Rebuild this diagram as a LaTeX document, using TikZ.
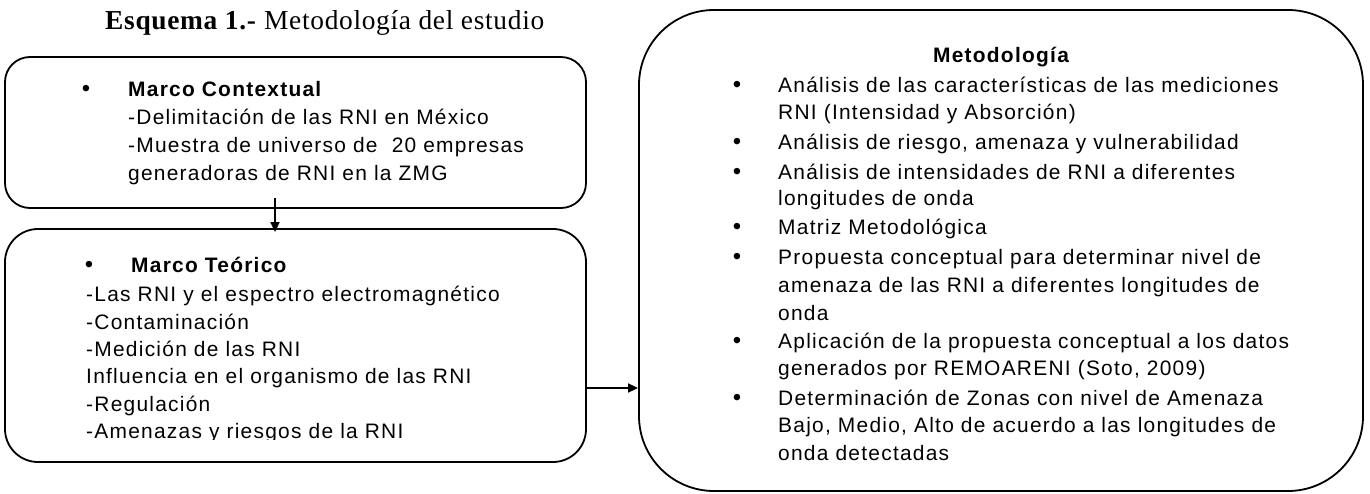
\documentclass[tikz,border=0pt]{standalone}
\usepackage{fontspec}
\setmainfont{Liberation Serif}[LetterSpace=2.5]
\setsansfont{Liberation Sans}[LetterSpace=6]
\usetikzlibrary{arrows.meta}
\tikzset{
  box/.style={draw=black, line width=1.8bp, rectangle, inner sep=0pt},
  txt/.style={anchor=base west, inner sep=0pt, font=\sffamily\fontsize{21}{25}\selectfont},
  btxt/.style={txt, font=\sffamily\bfseries\fontsize{21}{25}\selectfont},
  bul/.style={anchor=base, inner sep=0pt, font=\sffamily\fontsize{24}{25}\selectfont},
  conn/.style={draw=black, line width=1.6bp, -{Triangle[length=10bp,width=9bp]}}
}
\begin{document}
\begin{tikzpicture}[x=1bp,y=-1bp]
\useasboundingbox (0,0) rectangle (1370,494);
% title
\node[anchor=base west, inner sep=0pt, font=\fontsize{27.5}{31}\selectfont] (title) at (105,30) {\textbf{Esquema 1.-} Metodología del estudio};
% boxes
\node[box, rounded corners=25bp, minimum width=581bp, minimum height=151bp] (ctx) at (295.5,132.5) {};
\node[box, rounded corners=33bp, minimum width=581bp, minimum height=233bp] (teo) at (295.5,345.5) {};
\node[box, rounded corners=75bp, minimum width=724bp, minimum height=481bp] (met) at (1001,250.5) {};
% box 1
\node[bul] (b1) at (86,97) {•};
\node[btxt] (t1) at (128,97) {Marco Contextual};
\node[txt] (t1a) at (128,125) {-Delimitación de las RNI en México};
\node[txt] (t1b) at (128,153) {-Muestra de universo de\ \ 20 empresas};
\node[txt] (t1c) at (128,181) {generadoras de RNI en la ZMG};
% box 2
\node[bul] (b2) at (89,273) {•};
\node[btxt] (t2) at (131,273) {Marco Teórico};
\node[txt] (t2a) at (86,301) {-Las RNI y el espectro electromagnético};
\node[txt] (t2b) at (86,329) {-Contaminación};
\node[txt] (t2c) at (86,356) {-Medición de las RNI};
\node[txt] (t2d) at (86,383) {Influencia en el organismo de las RNI};
\node[txt] (t2e) at (86,411) {-Regulación};
\begin{scope}
\clip (0,0) rectangle (600,439.5);
\node[txt] (t2f) at (86,438) {-Amenazas y riesgos de la RNI};
\end{scope}
% box 3
\node[btxt, anchor=base] (t3) at (1001,63) {Metodología};
\node[bul] (b3a) at (737,93) {•};
\node[txt] (t3a) at (778,93) {Análisis de las características de las mediciones};
\node[txt] (t3a2) at (778,120) {RNI (Intensidad y Absorción)};
\node[bul] (b3b) at (737,150) {•};
\node[txt] (t3b) at (778,150) {Análisis de riesgo, amenaza y vulnerabilidad};
\node[bul] (b3c) at (737,180) {•};
\node[txt] (t3c) at (778,180) {Análisis de intensidades de RNI a diferentes};
\node[txt] (t3c2) at (778,206) {longitudes de onda};
\node[bul] (b3d) at (737,235) {•};
\node[txt] (t3d) at (778,235) {Matriz Metodológica};
\node[bul] (b3e) at (737,265) {•};
\node[txt] (t3e) at (778,265) {Propuesta conceptual para determinar nivel de};
\node[txt] (t3e2) at (778,292) {amenaza de las RNI a diferentes longitudes de};
\node[txt] (t3e3) at (778,320) {onda};
\node[bul] (b3f) at (737,348) {•};
\node[txt] (t3f) at (778,348) {Aplicación de la propuesta conceptual a los datos};
\node[txt] (t3f2) at (778,375) {generados por REMOARENI (Soto, 2009)};
\node[bul] (b3g) at (737,405) {•};
\node[txt] (t3g) at (778,405) {Determinación de Zonas con nivel de Amenaza};
\node[txt] (t3g2) at (778,432) {Bajo, Medio, Alto de acuerdo a las longitudes de};
\node[txt] (t3g3) at (778,460) {onda detectadas};
% connectors
\coordinate (a1) at (275,198);
\draw[conn, shorten >=-4bp] (a1) -- (a1 |- teo.north);
\draw[conn] (teo.east |- 0,388) -- (met.west |- 0,388);
\end{tikzpicture}
\end{document}
